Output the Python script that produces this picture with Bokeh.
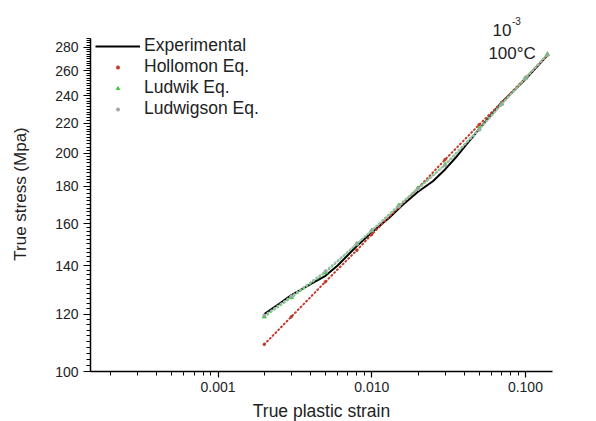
from bokeh.plotting import figure
from bokeh.models import FixedTicker, CustomJSTickFormatter, Legend, LegendItem, Label
from bokeh.embed import file_html
from bokeh.resources import INLINE

# ---- data ----
strain_exp = [0.002, 0.0025, 0.003, 0.004, 0.005, 0.006, 0.008, 0.010, 0.013,
              0.016, 0.020, 0.025, 0.030, 0.035, 0.040, 0.050, 0.070, 0.100, 0.139]
stress_exp = [120, 124, 127.5, 132, 135.5, 140, 149, 155.5, 163,
              170, 177, 183, 190, 197, 204, 216, 235, 253, 273]

strain_fit = [0.002, 0.003, 0.005, 0.008, 0.010, 0.015, 0.020, 0.030,
              0.050, 0.070, 0.100, 0.139]
stress_hollomon = [109, 119, 133, 147, 154.5, 168.5, 179, 196, 219, 235, 254, 273]
stress_ludwik = [119, 126.5, 137, 150, 156.5, 169.5, 179, 193, 216, 234, 254, 274]
stress_ludwigson = [119.5, 127, 137.5, 150, 156.5, 169, 178.5, 192.5, 215.5, 233.5, 253.5, 273.5]

x_major = [0.001, 0.01, 0.1]
y_major = [100, 120, 140, 160, 180, 200, 220, 240, 260, 280]

FONT = "Liberation Sans"
TXT = "#222222"

p = figure(frame_width=462, frame_height=355, x_axis_type="log", y_axis_type="log",
           x_range=(0.000148, 0.15), y_range=(100, 308.8),
           output_backend="svg", toolbar_location=None,
           min_border_left=90, min_border_right=44, min_border_top=16,
           min_border_bottom=50)
p.outline_line_color = None
p.xgrid.grid_line_color = None
p.ygrid.grid_line_color = None
p.background_fill_color = "white"
p.border_fill_color = "white"

# ticks
x_minor = [m * d for d in (0.0001, 0.001, 0.01, 0.1) for m in range(2, 10)]
p.xaxis.ticker = FixedTicker(ticks=x_major, minor_ticks=x_minor)
p.xaxis.formatter = CustomJSTickFormatter(code="return tick.toFixed(3);")
y_minor = [v for v in range(100, 290, 2) if v not in y_major]
p.yaxis.ticker = FixedTicker(ticks=y_major, minor_ticks=y_minor)
p.yaxis.formatter = CustomJSTickFormatter(code="return tick.toFixed(0);")
p.yaxis.bounds = (100, 288)

for ax in (p.xaxis, p.yaxis):
    ax.axis_line_color = "black"
    ax.axis_line_width = 1.5
    ax.major_tick_line_color = "black"
    ax.minor_tick_line_color = "black"
    ax.major_tick_line_width = 1.2
    ax.minor_tick_line_width = 1
    ax.major_tick_out = 6
    ax.major_tick_in = 0
    ax.minor_tick_out = 4
    ax.minor_tick_in = 0
    ax.major_label_text_font = FONT
    ax.major_label_text_font_size = "14px"
    ax.major_label_text_color = TXT
    ax.major_label_text_line_height = 1.0
    ax.major_label_standoff = 4
    ax.axis_label_text_font = FONT
    ax.axis_label_text_font_style = "normal"
    ax.axis_label_text_color = TXT
    ax.axis_label_text_line_height = 1.0

p.yaxis.major_tick_out = 7
p.yaxis.major_label_standoff = 5

p.xaxis.axis_label = "True plastic strain"
p.xaxis.axis_label_text_font_size = "17.5px"
p.xaxis.axis_label_standoff = 6
p.yaxis.axis_label = "True stress (Mpa)"
p.yaxis.axis_label_text_font_size = "17px"
p.yaxis.axis_label_standoff = 22

# ---- series ----
r_exp = p.line(strain_exp, stress_exp, line_color="black", line_width=2)

p.line(strain_fit, stress_hollomon, line_color="#c0392b", line_width=2,
       line_dash="1 3", line_cap="round")
r_hol = p.scatter(strain_fit, stress_hollomon, marker="circle", size=2.5,
                  fill_color="#c0392b", line_color="#c0392b")

p.line(strain_fit, stress_ludwik, line_color="#5fd35f", line_width=2,
       line_dash="1 3", line_cap="round")
r_lud = p.scatter(strain_fit, stress_ludwik, marker="triangle", size=4,
                  fill_color="#33cc33", line_color="#33cc33")

p.line(strain_fit, stress_ludwigson, line_color="#a8b8b8", line_width=2,
       line_dash="1 3", line_cap="round")
r_lgs = p.scatter(strain_fit, stress_ludwigson, marker="circle", size=3,
                  fill_color="#a0a8a8", line_color="#a0a8a8")

legend = Legend(items=[
    LegendItem(label="Experimental", renderers=[r_exp]),
    LegendItem(label="Hollomon Eq.", renderers=[r_hol]),
    LegendItem(label="Ludwik Eq.", renderers=[r_lud]),
    LegendItem(label="Ludwigson Eq.", renderers=[r_lgs]),
], location=(5, 252))
legend.border_line_color = None
legend.background_fill_alpha = 0
legend.padding = 0
legend.margin = 0
legend.spacing = 0
legend.glyph_width = 45
legend.glyph_height = 8
legend.label_height = 20
legend.label_standoff = 4
legend.label_text_font = FONT
legend.label_text_font_size = "17.5px"
legend.label_text_line_height = 1.0
legend.label_text_color = TXT
p.add_layout(legend)

# ---- annotations ----
p.add_layout(Label(x=0.0610, y=289.8, text="10", text_font=FONT,
                   text_font_size="17px", text_color=TXT))
p.add_layout(Label(x=0.0817, y=300.1, text="-3", text_font=FONT,
                   text_font_size="10px", text_color=TXT))
p.add_layout(Label(x=0.0574, y=266.8, text="100°C", text_font=FONT,
                   text_font_size="17px", text_color=TXT))

open("out.html", "w").write(file_html(p, INLINE))
